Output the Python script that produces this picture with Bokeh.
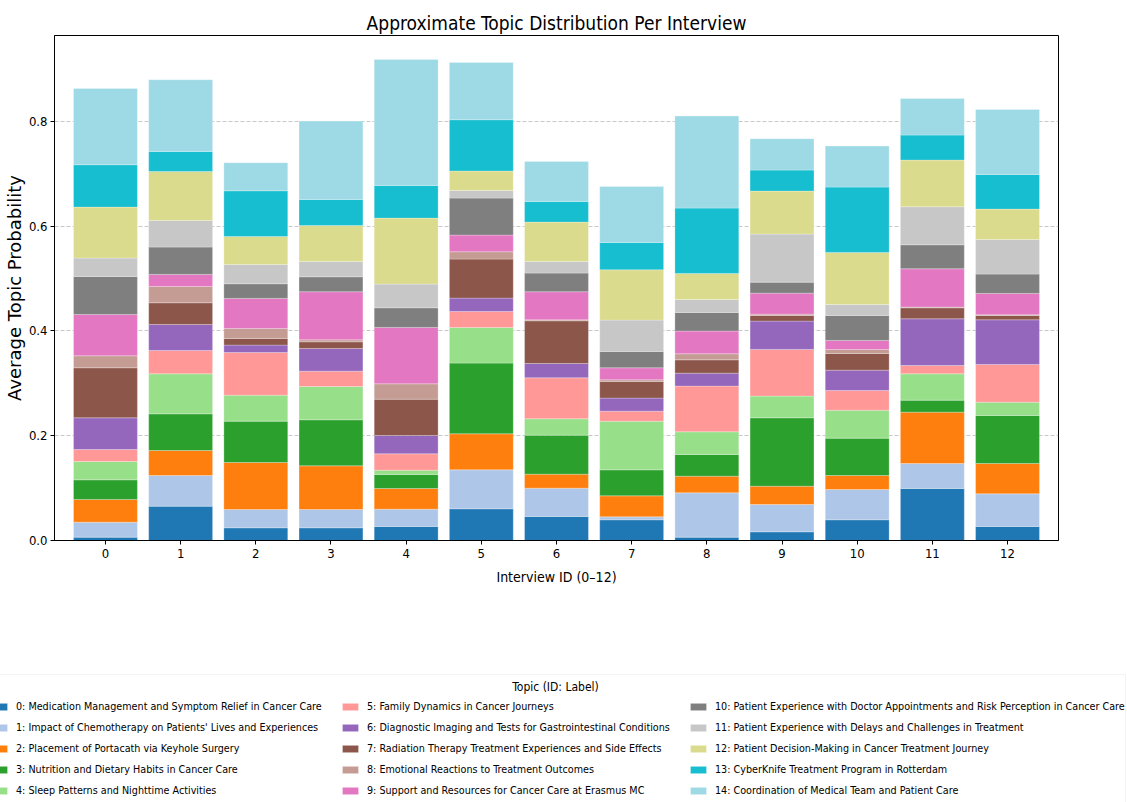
from bokeh.plotting import figure
from bokeh.models import (ColumnDataSource, Range1d, FixedTicker, CustomJSTickFormatter,
                          Legend, LegendItem, Label, BoxAnnotation)
from bokeh.embed import file_html
from bokeh.resources import INLINE

interviews = list(range(13))
topic_labels = [
    "0: Medication Management and Symptom Relief in Cancer Care",
    "1: Impact of Chemotherapy on Patients' Lives and Experiences",
    "2: Placement of Portacath via Keyhole Surgery",
    "3: Nutrition and Dietary Habits in Cancer Care",
    "4: Sleep Patterns and Nighttime Activities",
    "5: Family Dynamics in Cancer Journeys",
    "6: Diagnostic Imaging and Tests for Gastrointestinal Conditions",
    "7: Radiation Therapy Treatment Experiences and Side Effects",
    "8: Emotional Reactions to Treatment Outcomes",
    "9: Support and Resources for Cancer Care at Erasmus MC",
    "10: Patient Experience with Doctor Appointments and Risk Perception in Cancer Care",
    "11: Patient Experience with Delays and Challenges in Treatment",
    "12: Patient Decision-Making in Cancer Treatment Journey",
    "13: CyberKnife Treatment Program in Rotterdam",
    "14: Coordination of Medical Team and Patient Care",
]
colors = ["#1f77b4", "#aec7e8", "#ff7f0e", "#2ca02c", "#98df8a", "#ff9896", "#9467bd",
          "#8c564b", "#c49c94", "#e377c2", "#7f7f7f", "#c7c7c7", "#dbdb8d", "#17becf", "#9edae5"]

t0 = [0.0064, 0.0656, 0.0242, 0.0242, 0.0267, 0.0605, 0.0458, 0.0395, 0.0064, 0.0165, 0.0395, 0.0993, 0.0267]
t1 = [0.0286, 0.0585, 0.0350, 0.0350, 0.0331, 0.0744, 0.0541, 0.0057, 0.0846, 0.0522, 0.0579, 0.0477, 0.0624]
t2 = [0.0433, 0.0477, 0.0897, 0.0834, 0.0395, 0.0688, 0.0268, 0.0401, 0.0318, 0.0350, 0.0267, 0.0980, 0.0579]
t3 = [0.0375, 0.0700, 0.0789, 0.0878, 0.0267, 0.1349, 0.0744, 0.0496, 0.0414, 0.1305, 0.0713, 0.0229, 0.0917]
t4 = [0.0350, 0.0764, 0.0497, 0.0636, 0.0083, 0.0681, 0.0312, 0.0929, 0.0433, 0.0414, 0.0534, 0.0503, 0.0254]
t5 = [0.0229, 0.0446, 0.0814, 0.0293, 0.0312, 0.0305, 0.0783, 0.0191, 0.0872, 0.0891, 0.0376, 0.0159, 0.0719]
t6 = [0.0605, 0.0496, 0.0141, 0.0433, 0.0350, 0.0255, 0.0273, 0.0249, 0.0248, 0.0541, 0.0388, 0.0891, 0.0853]
t7 = [0.0955, 0.0414, 0.0127, 0.0127, 0.0693, 0.0745, 0.0815, 0.0318, 0.0254, 0.0108, 0.0318, 0.0210, 0.0083]
t8 = [0.0229, 0.0312, 0.0191, 0.0038, 0.0293, 0.0140, 0.0019, 0.0032, 0.0115, 0.0025, 0.0077, 0.0013, 0.0013]
t9 = [0.0789, 0.0229, 0.0573, 0.0917, 0.1076, 0.0318, 0.0535, 0.0229, 0.0433, 0.0401, 0.0172, 0.0732, 0.0407]
t10 = [0.0726, 0.0522, 0.0280, 0.0286, 0.0375, 0.0706, 0.0356, 0.0312, 0.0356, 0.0210, 0.0477, 0.0458, 0.0369]
t11 = [0.0350, 0.0509, 0.0369, 0.0293, 0.0452, 0.0147, 0.0223, 0.0598, 0.0248, 0.0917, 0.0210, 0.0726, 0.0662]
t12 = [0.0973, 0.0935, 0.0534, 0.0687, 0.1260, 0.0369, 0.0751, 0.0961, 0.0497, 0.0821, 0.0993, 0.0891, 0.0579]
t13 = [0.0809, 0.0382, 0.0872, 0.0497, 0.0624, 0.0980, 0.0395, 0.0522, 0.1247, 0.0401, 0.1247, 0.0477, 0.0662]
t14 = [0.1457, 0.1368, 0.0535, 0.1495, 0.2406, 0.1094, 0.0763, 0.1069, 0.1757, 0.0598, 0.0783, 0.0700, 0.1241]
topics = [t0, t1, t2, t3, t4, t5, t6, t7, t8, t9, t10, t11, t12, t13, t14]

y_ticks = [0.0, 0.2, 0.4, 0.6, 0.8]

NARROW = "'Liberation Sans Narrow', 'DejaVu Sans Condensed', sans-serif"

data = {"x": interviews}
keys = []
for i, vals in enumerate(topics):
    k = f"t{i}"
    keys.append(k)
    data[k] = vals
source = ColumnDataSource(data)

# ---------------- main chart ----------------
p = figure(width=1127, height=600, output_backend="svg", toolbar_location=None,
           x_range=Range1d(-0.678, 12.678), y_range=Range1d(0, 0.964),
           min_border_left=54, min_border_right=69, min_border_top=35, min_border_bottom=60)

p.vbar_stack(keys, x="x", width=0.85, color=colors, source=source,
             line_color="white", line_width=0.5, line_alpha=0.5)

p.title.text = "Approximate Topic Distribution Per Interview"
p.title.align = "center"
p.title.text_font = NARROW
p.title.text_font_size = "19px"
p.title.text_font_style = "normal"
p.title.text_color = "black"
p.title.standoff = 4

p.outline_line_color = "black"
p.outline_line_width = 1
p.outline_line_alpha = 1

p.xgrid.visible = False
p.ygrid.grid_line_color = "#b0b0b0"
p.ygrid.grid_line_alpha = 0.7
p.ygrid.grid_line_dash = "4 2"
p.ygrid.ticker = FixedTicker(ticks=y_ticks)

p.xaxis.ticker = FixedTicker(ticks=interviews)
p.yaxis.ticker = FixedTicker(ticks=y_ticks)
p.yaxis.formatter = CustomJSTickFormatter(code="return tick.toFixed(1);")

for ax in (p.xaxis[0], p.yaxis[0]):
    ax.axis_line_color = "black"
    ax.major_tick_line_color = "black"
    ax.major_tick_out = 4
    ax.major_tick_in = 0
    ax.minor_tick_line_color = None
    ax.major_label_text_font = NARROW
    ax.major_label_text_font_size = "13px"
    ax.major_label_text_color = "black"
    ax.major_label_standoff = 4
    ax.axis_label_text_font_style = "normal"
    ax.axis_label_text_color = "black"

p.xaxis.axis_label = "Interview ID (0\u201312)"
p.xaxis.axis_label_text_font = NARROW
p.xaxis.axis_label_text_font_size = "14px"
p.xaxis.axis_label_standoff = 8

p.yaxis.axis_label = "Average Topic Probability"
p.yaxis.axis_label_text_font = "DejaVu Sans"
p.yaxis.axis_label_text_font_size = "18px"
p.yaxis.major_label_standoff = 3
p.yaxis.axis_label_standoff = 1

# ---------------- legend panel (separate canvas below the chart) ----------------
lg = figure(width=1127, height=202, output_backend="svg", toolbar_location=None,
            x_range=Range1d(-100, -99), y_range=Range1d(0, 1),
            x_axis_location=None, y_axis_location=None,
            min_border_left=0, min_border_right=0, min_border_top=0, min_border_bottom=0)
lg.grid.visible = False
lg.outline_line_color = None

# hidden swatch renderers sharing the chart's data (only used for the legend glyphs)
proxies = [lg.vbar(x="x", top=k, width=0.85, color=c, source=source, visible=False,
                   line_color="white", line_width=0.5, line_alpha=0.5)
           for k, c in zip(keys, colors)]
items = [LegendItem(label=lab, renderers=[r]) for lab, r in zip(topic_labels, proxies)]

lg.add_layout(BoxAnnotation(left=-5, right=1125, bottom=-5, top=128,
                            left_units="screen", right_units="screen",
                            top_units="screen", bottom_units="screen",
                            fill_alpha=0, line_color="#d6d6d6", line_width=1))

col_x = [-11, 340, 688]
for c in range(3):
    leg = Legend(items=items[c * 5:(c + 1) * 5], orientation="vertical", location=(col_x[c], 4),
                 label_text_font=NARROW, label_text_font_size="10.7px", label_text_color="black",
                 glyph_width=20, glyph_height=9, label_standoff=7, label_height=16,
                 spacing=5, padding=0, margin=0, border_line_alpha=0, background_fill_alpha=0)
    lg.add_layout(leg)

lg.add_layout(Label(x=555, y=116, x_units="screen", y_units="screen",
                    text="Topic (ID: Label)", text_align="center", text_baseline="middle",
                    text_font=NARROW, text_font_size="12px", text_color="black"))

open("out.html", "w").write(file_html([p, lg], INLINE))
